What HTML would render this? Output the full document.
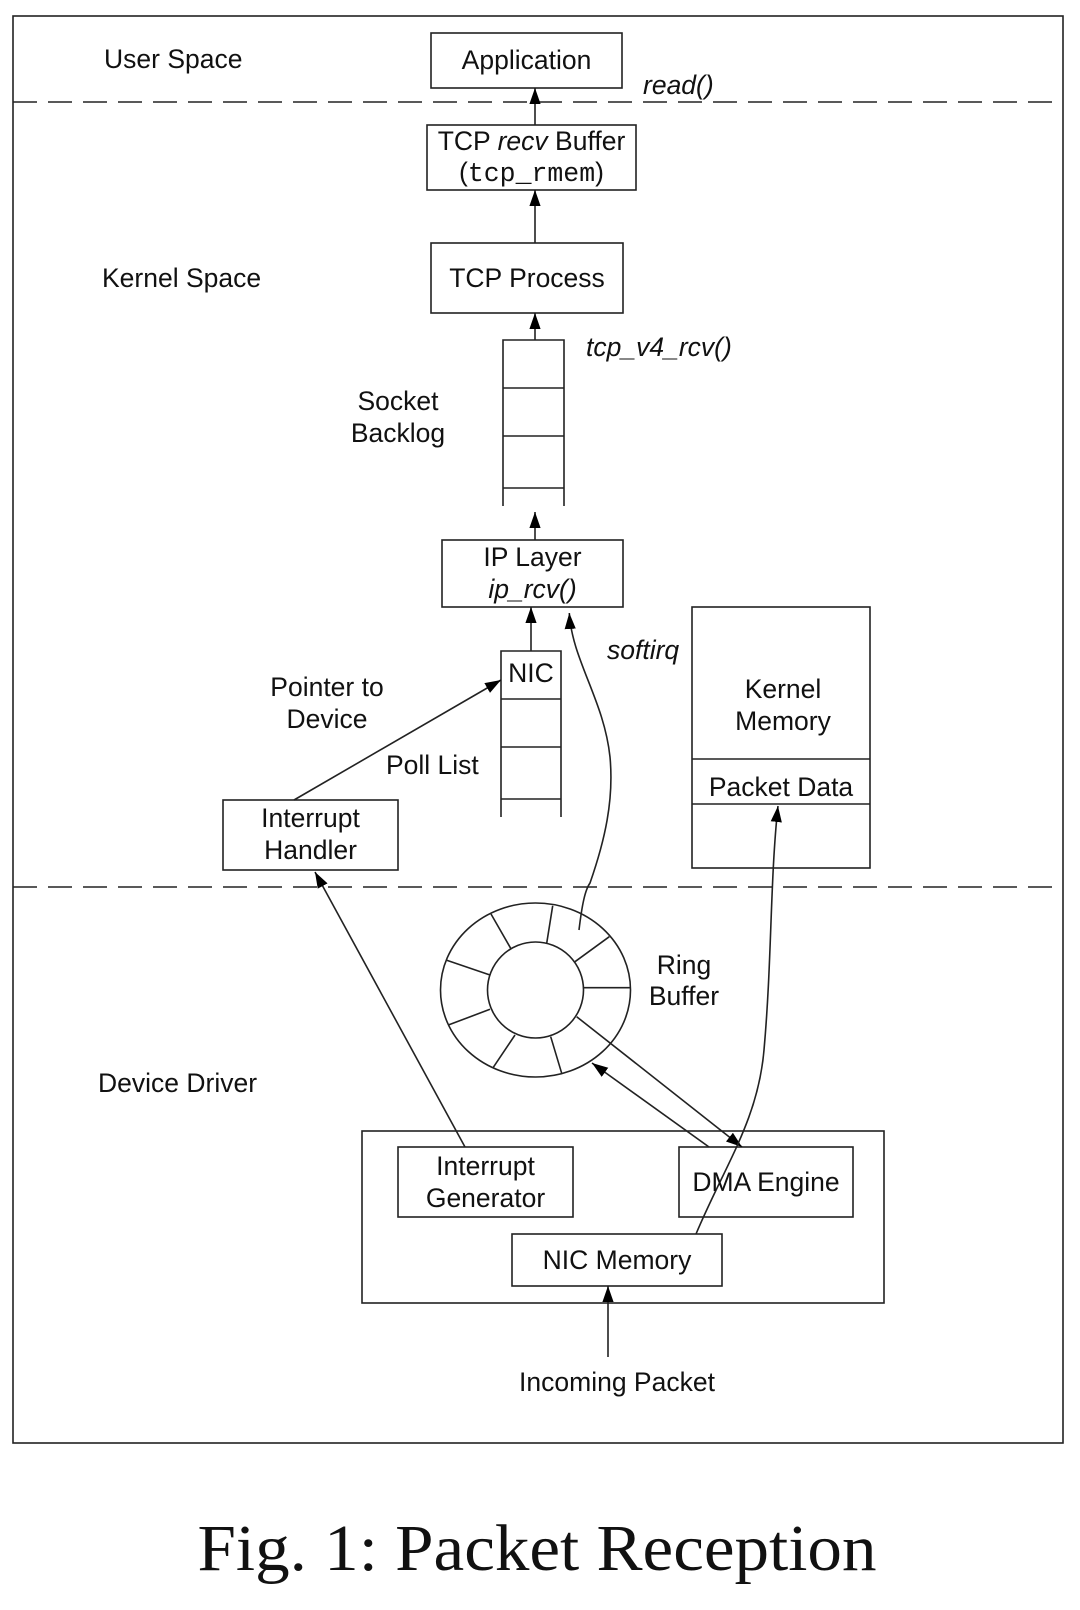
<!DOCTYPE html>
<html><head><meta charset="utf-8"><style>
html,body{margin:0;padding:0;background:#fff;}
svg{display:block;}
text{font-family:"Liberation Sans",sans-serif;font-size:26.5px;fill:#111;}
.i{font-style:italic;}
</style></head><body>
<svg width="1080" height="1610" viewBox="0 0 1080 1610" xmlns="http://www.w3.org/2000/svg">
<defs>
<marker id="a" viewBox="0 0 10 10" refX="10" refY="5" markerWidth="16" markerHeight="16" markerUnits="userSpaceOnUse" orient="auto"><path d="M0,1.5 L10,5 L0,8.5 z" fill="#000"/></marker>
</defs>
<g fill="none" stroke="#222" stroke-width="1.6">
<rect x="13" y="16" width="1050" height="1427"/>
<line x1="13" y1="102" x2="1063" y2="102" stroke-dasharray="24,11"/>
<line x1="13" y1="887" x2="1063" y2="887" stroke-dasharray="24,11"/>
<rect x="431" y="33" width="191" height="55"/>
<rect x="427" y="125" width="209" height="65"/>
<rect x="431" y="243" width="192" height="70"/>
<path d="M503,506 V340 H564 V506 M503,388 H564 M503,436 H564 M503,488 H564"/>
<rect x="442" y="540" width="181" height="67"/>
<path d="M501,817 V651 H561 V817 M501,699 H561 M501,747 H561 M501,799 H561"/>
<rect x="223" y="800" width="175" height="70"/>
<rect x="692" y="607" width="178" height="261"/>
<line x1="692" y1="759" x2="870" y2="759"/>
<line x1="692" y1="804" x2="870" y2="804"/>
<ellipse cx="535.5" cy="990" rx="95" ry="87"/>
<circle cx="535.5" cy="990" r="48"/>
<path d="M546.7,943.3L552.7,905.7M510.7,948.3L491,914M490,975L446,960M490,1009.3L448.3,1025M515,1035L493.3,1067.3M550.7,1036.7L561.7,1073.3M583.3,987.7L630.7,987.7M575,961.7L609.3,936.7"/>
<rect x="362" y="1131" width="522" height="172"/>
<rect x="398" y="1147" width="175" height="70"/>
<rect x="679" y="1147" width="174" height="70"/>
<rect x="512" y="1234" width="210" height="52"/>
<line x1="535" y1="125" x2="535" y2="88" marker-end="url(#a)"/>
<line x1="535" y1="243" x2="535" y2="190" marker-end="url(#a)"/>
<line x1="535" y1="340" x2="535" y2="313" marker-end="url(#a)"/>
<line x1="535" y1="540" x2="535" y2="512" marker-end="url(#a)"/>
<line x1="531" y1="651" x2="531" y2="607" marker-end="url(#a)"/>
<line x1="294" y1="800" x2="501" y2="680" marker-end="url(#a)"/>
<path d="M579,930 C582,905 585,890 590,883 C605,840 614,800 610,757 C604,700 572,660 569.3,613" marker-end="url(#a)"/>
<line x1="465" y1="1147" x2="315" y2="872" marker-end="url(#a)"/>
<line x1="709" y1="1147" x2="592" y2="1063" marker-end="url(#a)"/>
<line x1="576.7" y1="1016.7" x2="742" y2="1147" marker-end="url(#a)"/>
<path d="M696,1234 C725,1165 758,1120 764,1050 C772,960 770,880 778,806" marker-end="url(#a)"/>
<line x1="608" y1="1357" x2="608" y2="1286" marker-end="url(#a)"/>
</g>
<text x="104" y="68">User Space</text>
<text x="526.5" y="69" text-anchor="middle">Application</text>
<text x="643" y="94" class="i">read()</text>
<text x="531.5" y="150" text-anchor="middle">TCP <tspan class="i">recv</tspan> Buffer</text>
<text x="531.5" y="181" text-anchor="middle">(<tspan font-family="Liberation Mono,monospace">tcp_rmem</tspan>)</text>
<text x="102" y="287">Kernel Space</text>
<text x="527" y="287" text-anchor="middle">TCP Process</text>
<text x="586" y="356" class="i">tcp_v4_rcv()</text>
<text x="398" y="410" text-anchor="middle">Socket</text>
<text x="398" y="442" text-anchor="middle">Backlog</text>
<text x="532.5" y="566" text-anchor="middle">IP Layer</text>
<text x="532.5" y="598" text-anchor="middle" class="i">ip_rcv()</text>
<text x="607" y="659" class="i">softirq</text>
<text x="531" y="682" text-anchor="middle">NIC</text>
<text x="327" y="696" text-anchor="middle">Pointer to</text>
<text x="327" y="728" text-anchor="middle">Device</text>
<text x="386" y="774">Poll List</text>
<text x="783" y="698" text-anchor="middle">Kernel</text>
<text x="783" y="730" text-anchor="middle">Memory</text>
<text x="781" y="796" text-anchor="middle">Packet Data</text>
<text x="310.5" y="827" text-anchor="middle">Interrupt</text>
<text x="310.5" y="859" text-anchor="middle">Handler</text>
<text x="684" y="974" text-anchor="middle">Ring</text>
<text x="684" y="1005" text-anchor="middle">Buffer</text>
<text x="98" y="1092">Device Driver</text>
<text x="485.5" y="1175" text-anchor="middle">Interrupt</text>
<text x="485.5" y="1207" text-anchor="middle">Generator</text>
<text x="766" y="1191" text-anchor="middle">DMA Engine</text>
<text x="617" y="1269" text-anchor="middle">NIC Memory</text>
<text x="617" y="1391" text-anchor="middle">Incoming Packet</text>
<text x="537" y="1570" text-anchor="middle" style="font-family:'Liberation Serif',serif;font-size:66px" textLength="679" lengthAdjust="spacingAndGlyphs">Fig. 1: Packet Reception</text>
</svg>
</body></html>
